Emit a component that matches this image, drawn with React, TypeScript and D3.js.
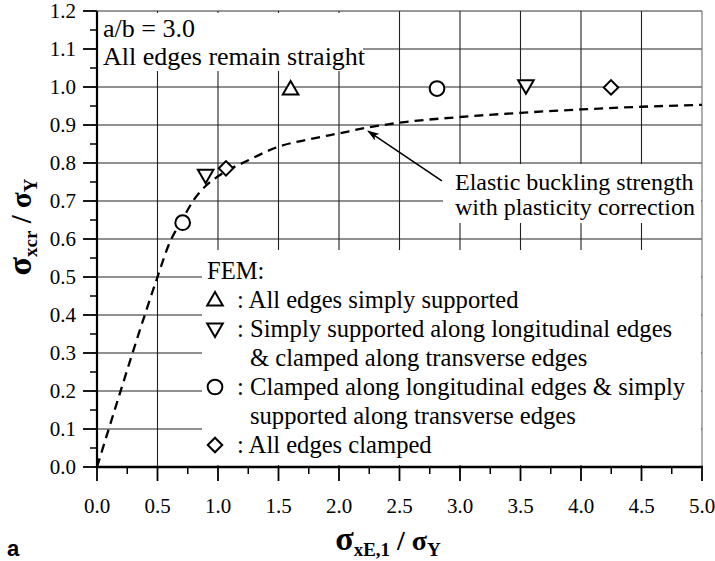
import React from "react";
import * as d3 from "d3";

// Axis ticks
const xTicks = [0, 0.5, 1, 1.5, 2, 2.5, 3, 3.5, 4, 4.5, 5];
const xMinor = [0.25, 0.75, 1.25, 1.75, 2.25, 2.75, 3.25, 3.75, 4.25, 4.75];
const yTicks = [0, 0.1, 0.2, 0.3, 0.4, 0.5, 0.6, 0.7, 0.8, 0.9, 1.0, 1.1, 1.2];
const yMinor = [0.05, 0.15, 0.25, 0.35, 0.45, 0.55, 0.65, 0.75, 0.85, 0.95, 1.05, 1.15];

// Elastic buckling strength with plasticity correction
const curveX = [0, 0.2, 0.4, 0.5, 0.6, 0.7, 0.8, 0.9, 1.0, 1.25, 1.5, 1.75, 2.0, 2.25, 2.5, 3.0, 3.5, 4.0, 4.5, 5.0];
const curveY = [0, 0.205, 0.405, 0.5, 0.59, 0.648, 0.703, 0.74, 0.765, 0.807, 0.843, 0.862, 0.878, 0.894, 0.906, 0.921, 0.932, 0.941, 0.948, 0.953];

// FEM results
const ssAllX = [1.6];
const ssAllY = [0.995];
const ssLongX = [0.898, 3.545];
const ssLongY = [0.768, 1.003];
const clLongX = [0.708, 2.81];
const clLongY = [0.643, 0.996];
const clAllX = [1.066, 4.248];
const clAllY = [0.786, 0.999];

const legendLines = [
  { sym: "", text: "FEM:" },
  { sym: "up", text: ": All edges simply supported" },
  { sym: "down", text: ": Simply supported along longitudinal edges" },
  { sym: "", text: "& clamped along transverse edges" },
  { sym: "circle", text: ": Clamped along longitudinal edges & simply" },
  { sym: "", text: "supported along transverse edges" },
  { sym: "diamond", text: ": All edges clamped" },
];

const W = 715;
const H = 561;
const SERIF = "Liberation Serif";

const x = d3.scaleLinear().domain([0, 5]).range([97, 702]);
const y = d3.scaleLinear().domain([0, 1.2]).range([467, 11]);

const triUp = d3.symbol().type(d3.symbolTriangle).size(105)() as string;
const circ = d3.symbol().type(d3.symbolCircle).size(170)() as string;
const square = d3.symbol().type(d3.symbolSquare).size(105)() as string;

function Marker({ kind, cx, cy }: { kind: string; cx: number; cy: number }) {
  const common = { fill: "#fff", stroke: "#000", strokeWidth: 2 };
  if (kind === "up") return <path d={triUp} transform={`translate(${cx},${cy + 1})`} {...common} />;
  if (kind === "down") return <path d={triUp} transform={`translate(${cx},${cy - 1}) rotate(180)`} {...common} />;
  if (kind === "circle") return <path d={circ} transform={`translate(${cx},${cy})`} {...common} />;
  return <path d={square} transform={`translate(${cx},${cy}) rotate(45)`} {...common} />;
}

function T(props: any) {
  const { size, children, style, ...rest } = props;
  return (
    <text {...rest} style={{ fontFamily: SERIF, fontSize: size + "px", ...(style || {}) }}>
      {children}
    </text>
  );
}

export default function App() {
  const line = d3
    .line<number>()
    .x((_, i) => x(curveX[i]))
    .y((_, i) => y(curveY[i]))
    .curve(d3.curveMonotoneX);
  const curvePath = line(curveY) as string;

  const series = [
    { kind: "up", xs: ssAllX, ys: ssAllY },
    { kind: "down", xs: ssLongX, ys: ssLongY },
    { kind: "circle", xs: clLongX, ys: clLongY },
    { kind: "diamond", xs: clAllX, ys: clAllY },
  ];

  const [x0, x1] = x.range();
  const [y0, y1] = y.range();

  return (
    <svg width={W} height={H} style={{ position: "absolute", left: 0, top: 0, background: "#fff", fontFamily: SERIF }}>
      <defs>
        <marker id="arrowHead" viewBox="0 0 12 8" refX="11" refY="4" markerWidth="12" markerHeight="8" markerUnits="userSpaceOnUse" orient="auto">
          <path d="M0,0 L12,4 L0,8 L3,4 Z" fill="#000" />
        </marker>
      </defs>
      <rect x={0} y={0} width={W} height={H} fill="#fff" />

      {/* grid */}
      {xTicks.slice(1, -1).map((t) => (
        <line key={"gx" + t} x1={x(t)} x2={x(t)} y1={y1} y2={y0} stroke="#222" strokeWidth={1.1} />
      ))}
      {yTicks.slice(1, -1).map((t) => (
        <line key={"gy" + t} x1={x0} x2={x1} y1={y(t)} y2={y(t)} stroke="#222" strokeWidth={1.1} />
      ))}

      {/* text boxes hiding the grid */}
      <rect x={98} y={13} width={265} height={58} fill="#fff" />
      <rect x={443} y={164} width={258} height={59} fill="#fff" />
      <rect x={202} y={250} width={499} height={215} fill="#fff" />

      {/* frame */}
      <line x1={x0} x2={x1} y1={y1} y2={y1} stroke="#333" strokeWidth={1.2} />
      <line x1={x1} x2={x1} y1={y1} y2={y0} stroke="#777" strokeWidth={1.2} />
      <line x1={x0} x2={x0} y1={y1} y2={y0} stroke="#000" strokeWidth={2.2} />
      <line x1={x0 - 1} x2={x1 + 1} y1={y0} y2={y0} stroke="#000" strokeWidth={2.5} />

      {/* y ticks */}
      {yTicks.map((t) => (
        <g key={"yt" + t}>
          <line x1={x0 - 14} x2={x0} y1={y(t)} y2={y(t)} stroke="#000" strokeWidth={1.8} />
          <T x={76} y={y(t) + 7} textAnchor="end" size={21}>
            {t.toFixed(1)}
          </T>
        </g>
      ))}
      {yMinor.map((t) => (
        <line key={"ym" + t} x1={x0 - 7} x2={x0} y1={y(t)} y2={y(t)} stroke="#000" strokeWidth={1.5} />
      ))}

      {/* x ticks */}
      {xTicks.map((t) => (
        <g key={"xt" + t}>
          <line x1={x(t)} x2={x(t)} y1={y0} y2={y0 + 14} stroke="#000" strokeWidth={1.8} />
          <T x={x(t)} y={513} textAnchor="middle" size={21}>
            {t.toFixed(1)}
          </T>
        </g>
      ))}
      {xMinor.map((t) => (
        <line key={"xm" + t} x1={x(t)} x2={x(t)} y1={y0} y2={y0 + 7} stroke="#000" strokeWidth={1.5} />
      ))}

      {/* curve */}
      <path d={curvePath} fill="none" stroke="#000" strokeWidth={2.3} strokeDasharray="9,6" />

      {/* FEM markers */}
      {series.map((s) =>
        s.xs.map((v, i) => <Marker key={s.kind + i} kind={s.kind} cx={x(v)} cy={y(s.ys[i])} />)
      )}

      {/* annotation */}
      <line x1={x(2.85)} y1={y(0.753)} x2={x(2.24)} y2={y(0.884)} stroke="#000" strokeWidth={1.6} markerEnd="url(#arrowHead)" />
      <T x={455} y={190} size={24}>Elastic buckling strength</T>
      <T x={455} y={215} size={24}>with plasticity correction</T>

      <T x={103} y={37} size={26}>a/b = 3.0</T>
      <T x={103} y={65} size={26}>All edges remain straight</T>

      {/* legend */}
      {legendLines.map((l, i) => {
        const by = 279 + i * 29;
        const tx = l.sym ? 237 : i === 0 ? 207 : 250;
        return (
          <g key={"lg" + i}>
            {l.sym && <Marker kind={l.sym} cx={215} cy={by - 8} />}
            <T x={tx} y={by} size={24.6}>
              {l.text}
            </T>
          </g>
        );
      })}

      {/* axis titles */}
      <T x={388} y={550} textAnchor="middle" size={34} style={{ fontWeight: "bold" }}>
        σ<tspan fontSize={19} dy={6}>xE,1</tspan>
        <tspan fontSize={28} dy={-6}> / σ</tspan>
        <tspan fontSize={19} dy={6}>Y</tspan>
      </T>
      <T transform="translate(31,227) rotate(-90)" textAnchor="middle" size={34} style={{ fontWeight: "bold" }}>
        σ<tspan fontSize={19} dy={6}>xcr</tspan>
        <tspan fontSize={29} dy={-6}> / σ</tspan>
        <tspan fontSize={19} dy={6}>Y</tspan>
      </T>

      <text x={7} y={556} style={{ fontFamily: "Liberation Sans", fontWeight: "bold", fontSize: "22px" }}>
        a
      </text>
    </svg>
  );
}
